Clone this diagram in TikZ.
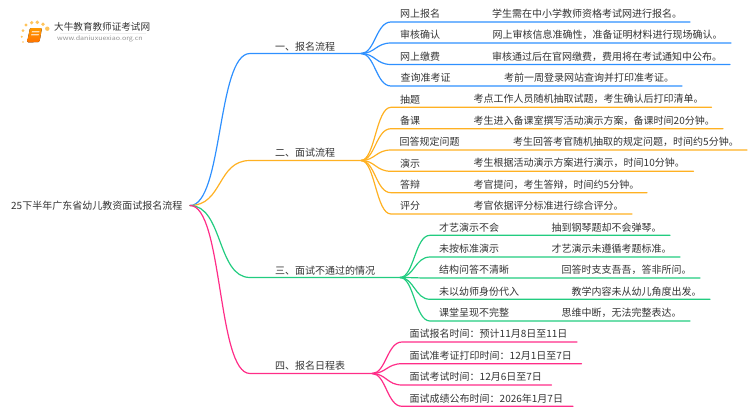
\documentclass[tikz,border=0pt]{standalone}
\usepackage{fontspec}
\setmainfont{Noto Sans CJK SC}
\usetikzlibrary{calc}
\definecolor{cblue}{HTML}{2E90FF}
\definecolor{corange}{HTML}{FFB122}
\definecolor{cgreen}{HTML}{22CC80}
\definecolor{cpink}{HTML}{FF2D88}
\definecolor{ctext}{HTML}{333333}
\definecolor{csun}{HTML}{FFC45C}
\tikzset{
  label text/.style={anchor=west,inner sep=0pt,text=ctext,font=\fontsize{10}{12}\selectfont},
  trunk/.style={line width=1.2pt,line cap=round},
  twig/.style={line width=1.2pt,line cap=round},
  sun/.style={fill=csun,draw=none}
}
% name, hub, y of line, end x, colour, label x, label, text x, text
\newcommand{\mmleaf}[9]{%
  \coordinate (#1s) at ($(#2)+(30,0)$);
  \coordinate (#1s) at (#1s |- 0,#3);
  \coordinate (#1e) at (#4,#3);
  \draw[twig,#5] (#2) .. controls +(14,0) and +(-15,0) .. (#1s) -- (#1e);
  \node[label text] (#1) at (#6,#3-8) {#7};
  \node[label text] (#1t) at (#8,#3-8) {#9};
}
\newcommand{\mmbranch}[6]{% name, y, hub x, colour, label y, label
  \coordinate (#1a) at (250,#2);
  \coordinate (#1) at (#3,#2);
  \draw[trunk,#4] (r) .. controls +(33,0) and +(-33,0) .. (#1a) -- (#1);
  \node[label text] (#1l) at (275,#5) {#6};
}
\begin{document}
\begin{tikzpicture}[x=1pt,y=-1pt]
\useasboundingbox (0,0) rectangle (750,410);
\node[label text] (root) at (11,206) {25下半年广东省幼儿教资面试报名流程};
\coordinate (r) at (190,205.5);

\mmbranch{h1}{53.5}{361}{cblue}{47}{一、报名流程}
\mmbranch{h2}{160.5}{361}{corange}{153}{二、面试流程}
\mmbranch{h3}{277.5}{400}{cgreen}{271}{三、面试不通过的情况}
\mmbranch{h4}{373.5}{372}{cpink}{366}{四、报名日程表}

\mmleaf{a1}{h1}{22}{690}{cblue}{400}{网上报名}{492}{学生需在中小学教师资格考试网进行报名。}
\mmleaf{a2}{h1}{43}{731}{cblue}{400}{审核确认}{492.5}{网上审核信息准确性，准备证明材料进行现场确认。}
\mmleaf{a3}{h1}{64.5}{730}{cblue}{400}{网上缴费}{492}{审核通过后在官网缴费，费用将在考试通知中公布。}
\mmleaf{a4}{h1}{86}{682}{cblue}{400.5}{查询准考证}{504}{考前一周登录网站查询并打印准考证。}

\mmleaf{b1}{h2}{107.3}{711.5}{corange}{400}{抽题}{473.5}{考点工作人员随机抽取试题，考生确认后打印清单。}
\mmleaf{b2}{h2}{128.7}{723}{corange}{400}{备课}{473.5}{考生进入备课室撰写活动演示方案，备课时间20分钟。}
\mmleaf{b3}{h2}{150}{747}{corange}{399.5}{回答规定问题}{513}{考生回答考官随机抽取的规定问题，时间约5分钟。}
\mmleaf{b4}{h2}{171.3}{693.5}{corange}{400}{演示}{473.5}{考生根据活动演示方案进行演示，时间10分钟。}
\mmleaf{b5}{h2}{192.7}{647}{corange}{400}{答辩}{473.5}{考官提问，考生答辩，时间约5分钟。}
\mmleaf{b6}{h2}{214}{632}{corange}{400}{评分}{473.5}{考官依据评分标准进行综合评分。}

\mmleaf{c1}{h3}{235.3}{670}{cgreen}{439}{才艺演示不会}{551.5}{抽到钢琴题却不会弹琴。}
\mmleaf{c2}{h3}{257}{680}{cgreen}{439}{未按标准演示}{551.5}{才艺演示未遵循考题标准。}
\mmleaf{c3}{h3}{278}{700}{cgreen}{439}{结构问答不清晰}{561.5}{回答时支支吾吾，答非所问。}
\mmleaf{c4}{h3}{299.3}{710}{cgreen}{439}{未以幼师身份代入}{571.5}{教学内容未从幼儿角度出发。}
\mmleaf{c5}{h3}{321}{690}{cgreen}{439}{课堂呈现不完整}{561.5}{思维中断，无法完整表达。}

\mmleaf{d1}{h4}{342}{577}{cpink}{409.5}{面试报名时间：预计11月8日至11日}{409.5}{}
\mmleaf{d2}{h4}{363.7}{581.5}{cpink}{409.5}{面试准考证打印时间：12月1日至7日}{409.5}{}
\mmleaf{d3}{h4}{385}{551.5}{cpink}{409.5}{面试考试时间：12月6日至7日}{409.5}{}
\mmleaf{d4}{h4}{406.3}{573}{cpink}{409.5}{面试成绩公布时间：2026年1月7日}{409.5}{}

% logo
\foreach \px/\py/\pr in {23/30.7/1.5,26/25/1.6,31.7/22.7/1.8,37.3/22.3/1.9,43/24.3/1.9,47.3/28.7/2.2,21.7/36.7/1.1,23/42/.9}
  \fill[sun] (\px,\py) circle[radius=\pr];
\fill[top color=orange!80!yellow,bottom color=orange!90!red,rounded corners=1.2pt] (30,28) -- (42,28) -- (39.5,42) -- (27,42.5) -- cycle;
\fill[white,opacity=.7] (32,31) -- (39.5,31) -- (39.2,32.4) -- (31.7,32.4) -- cycle;
\fill[white,opacity=.7] (31.4,34) -- (38.9,34) -- (38.6,35.4) -- (31.1,35.4) -- cycle;
\fill[gray!12] (60,33) rectangle (146,33.6);
\node[anchor=west,inner sep=0pt,text=ctext,font=\fontsize{9.6}{11}\selectfont] (logo) at (54,27) {大牛教育教师证考试网};
\node[anchor=west,inner sep=0pt,text=gray!85,font=\fontsize{6}{8}\selectfont,xscale=1.18] (logourl) at (57,39) {www.daniuxuexiao.org.cn};
\end{tikzpicture}
\end{document}
